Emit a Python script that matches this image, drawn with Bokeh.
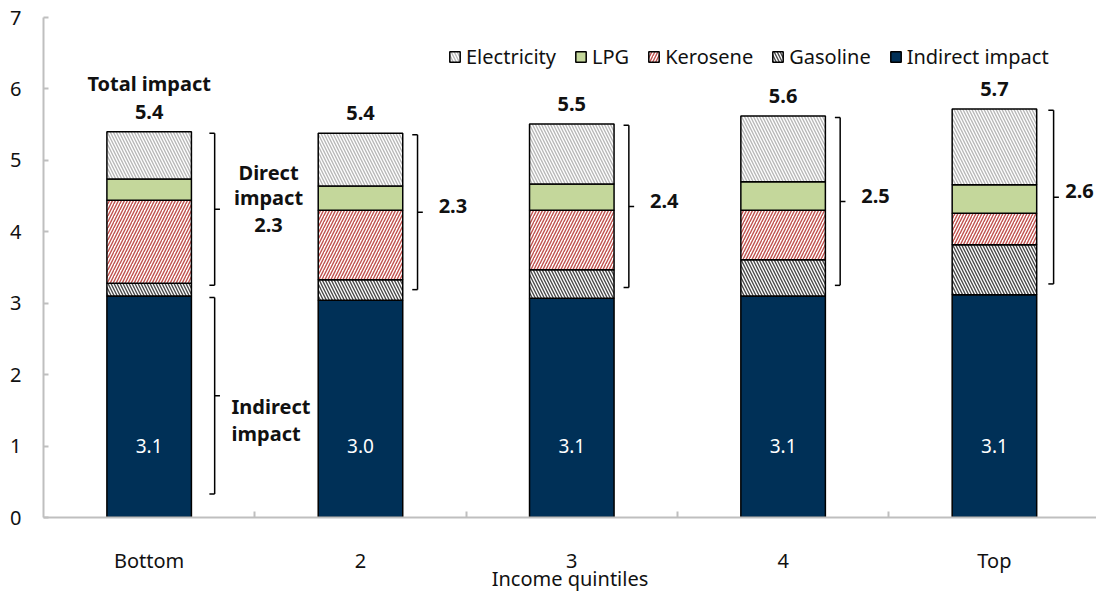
import numpy as np
from bokeh.plotting import figure
from bokeh.models import ColumnDataSource, FixedTicker, Legend, LegendItem, Range1d
from bokeh.core.properties import value
from bokeh.embed import file_html
from bokeh.resources import INLINE

# ---- data ----
quintiles = ["Bottom", "2", "3", "4", "Top"]
indirect = [3.10, 3.04, 3.07, 3.10, 3.12]
gasoline = [0.18, 0.29, 0.40, 0.51, 0.70]
kerosene = [1.16, 0.97, 0.83, 0.69, 0.44]
lpg = [0.30, 0.34, 0.37, 0.40, 0.40]
electricity = [0.66, 0.74, 0.84, 0.92, 1.06]
y_ticks = [0, 1, 2, 3, 4, 5, 6, 7]
x_title = "Income quintiles"

FONT = "Noto Sans"
TXT = "#111111"
AX = "#bfbfbf"

n = len(quintiles)
x = np.arange(1, n + 1)
ind = np.array(indirect)
direct = np.array(gasoline) + np.array(kerosene) + np.array(lpg) + np.array(electricity)
total = ind + direct

p = figure(width=1096, height=594, x_range=Range1d(0.5, 5.483), y_range=Range1d(0, 7),
           output_backend="svg", toolbar_location=None,
           min_border_left=43, min_border_right=0, min_border_top=17, min_border_bottom=75)
p.outline_line_color = None
p.xgrid.visible = False
p.ygrid.visible = False
p.background_fill_color = "white"

# ---- stacked bars ----
series = [
    ("Indirect impact", indirect, dict(fill_color="#003057", hatch_pattern=None)),
    ("Gasoline", gasoline, dict(fill_color="white", hatch_pattern="left_diagonal_line", hatch_color="#4a4a4a")),
    ("Kerosene", kerosene, dict(fill_color="white", hatch_pattern="right_diagonal_line", hatch_color="#c0504d")),
    ("LPG", lpg, dict(fill_color="#c4d79b", hatch_pattern=None)),
    ("Electricity", electricity, dict(fill_color="white", hatch_pattern="left_diagonal_line", hatch_color="#b8b8b8")),
]
bottom = np.zeros(n)
renderers = {}
for name, vals, style in series:
    vals = np.array(vals)
    src = ColumnDataSource(dict(x=x, bottom=bottom.copy(), top=bottom + vals))
    kw = dict(fill_color=style["fill_color"], line_color="black", line_width=1.5)
    if style["hatch_pattern"]:
        kw.update(hatch_pattern=style["hatch_pattern"], hatch_color=style["hatch_color"],
                  hatch_scale=6, hatch_weight=1.4)
    r = p.vbar(x="x", bottom="bottom", top="top", width=0.4, source=src, **kw)
    renderers[name] = r
    bottom = bottom + vals

# ---- brackets ----
bracket_off = np.array([0.31, 0.27, 0.27, 0.27, 0.28])
label_off = np.array([0.0, 0.10, 0.10, 0.10, 0.055])
bx = x + bracket_off
hook = 0.025
lo = ind + 0.15
hi = total - 0.02
mid = (lo + hi) / 2
x0s, y0s, x1s, y1s = [], [], [], []
def bracket(xx, a, b):
    m = (a + b) / 2
    x0s.extend([xx, xx - hook, xx - hook, xx])
    y0s.extend([a, b, a, m])
    x1s.extend([xx, xx, xx, xx + hook])
    y1s.extend([b, b, a, m])
for i in range(n):
    bracket(bx[i], lo[i], hi[i])
ind_lo = 0.33
ind_hi = ind[0] - 0.02
bracket(bx[0], ind_lo, ind_hi)
p.segment(x0=x0s, y0=y0s, x1=x1s, y1=y1s, line_color="black", line_width=1.5)

# ---- labels ----
bold = dict(text_font=value(FONT), text_font_style="bold", text_font_size="20px",
            text_color=TXT, text_baseline="middle")
p.text(x=x, y=total + 0.28, text=[f"{t:.1f}" for t in total], text_align="center", **bold)
p.text(x=[x[0]], y=[total[0] + 0.67], text=["Total impact"], text_align="center", **bold)
p.text(x=(bx + label_off)[1:], y=mid[1:] + 0.08, text=[f"{d:.1f}" for d in direct[1:]],
       text_align="left", **bold)
p.text(x=[x[0] + 0.565] * 3, y=[mid[0] + 0.52, mid[0] + 0.17, mid[0] - 0.22],
       text=["Direct", "impact", f"{direct[0]:.1f}"], text_align="center", **bold)
p.text(x=[x[0] + 0.39] * 2, y=[1.55, 1.17], text=["Indirect", "impact"], text_align="left", **bold)
p.text(x=x, y=[1.0] * n, text=[f"{v:.1f}" for v in ind], text_align="center", text_baseline="middle",
       text_font=value(FONT), text_font_size="19px", text_color="white")

# ---- axes ----
p.yaxis.ticker = FixedTicker(ticks=y_ticks)
p.yaxis.major_tick_in = 5
p.yaxis.major_tick_out = 0
p.yaxis.minor_tick_line_color = None
p.yaxis.axis_line_color = AX
p.yaxis.axis_line_width = 2
p.yaxis.major_tick_line_color = AX
p.yaxis.major_tick_line_width = 2
p.yaxis.major_label_text_font = FONT
p.yaxis.major_label_text_font_size = "20px"
p.yaxis.major_label_text_color = TXT
p.yaxis.major_label_standoff = 22

p.xaxis.ticker = FixedTicker(ticks=list(x), minor_ticks=[i + 0.5 for i in range(1, n)])
p.xaxis.major_label_overrides = {int(i): q for i, q in zip(x, quintiles)}
p.xaxis.major_tick_in = 0
p.xaxis.major_tick_out = 0
p.xaxis.minor_tick_in = 6
p.xaxis.minor_tick_out = 0
p.xaxis.minor_tick_line_color = AX
p.xaxis.minor_tick_line_width = 2
p.xaxis.axis_line_color = AX
p.xaxis.axis_line_width = 2
p.xaxis.major_label_text_font = FONT
p.xaxis.major_label_text_font_size = "20px"
p.xaxis.major_label_text_color = TXT
p.xaxis.major_label_standoff = 29
p.xaxis.axis_label = x_title
p.xaxis.axis_label_text_font = FONT
p.xaxis.axis_label_text_font_size = "20px"
p.xaxis.axis_label_text_font_style = "normal"
p.xaxis.axis_label_text_color = TXT
p.xaxis.axis_label_standoff = -12

# ---- legend ----
order = ["Electricity", "LPG", "Kerosene", "Gasoline", "Indirect impact"]
legend = Legend(items=[LegendItem(label=k, renderers=[renderers[k]]) for k in order],
                orientation="horizontal", location=(405, 447),
                glyph_width=13, glyph_height=13, label_standoff=5, spacing=18,
                padding=0, margin=0, border_line_color=None, background_fill_alpha=0,
                label_text_font=FONT, label_text_font_size="20px", label_text_color=TXT)
p.add_layout(legend)

open("out.html", "w").write(file_html(p, INLINE))
